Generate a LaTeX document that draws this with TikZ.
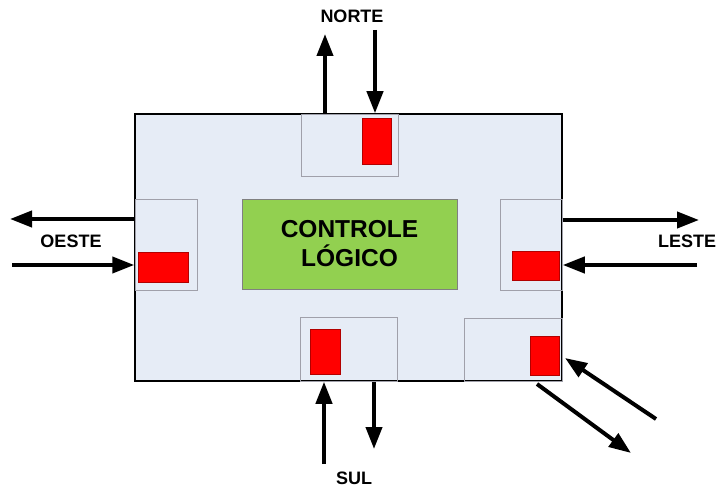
\documentclass[tikz,border=0pt]{standalone}
\usepackage{fontspec}
\setmainfont{Liberation Sans}
\usepackage{xcolor}
\usetikzlibrary{arrows.meta, positioning, calc}
\definecolor{chip-blue}{RGB}{230,236,246}
\definecolor{chip-green}{RGB}{146,208,80}
\definecolor{port-gray}{RGB}{160,160,170}
\definecolor{buf-red}{RGB}{255,0,0}

\begin{document}
\begin{tikzpicture}[
  x=1pt, y=-1pt,
  chip/.style={draw, line width=1.5pt, fill=chip-blue, minimum width=427pt, minimum height=267pt, inner sep=0pt},
  port/.style={draw=port-gray, line width=0.8pt, minimum width=#1, inner sep=0pt},
  buf/.style={draw=red!70!black, line width=0.4pt, fill=buf-red, inner sep=0pt},
  logic/.style={draw=gray, line width=0.5pt, fill=chip-green, minimum width=215pt, minimum height=90pt, align=center, font=\fontsize{24.5}{29}\selectfont\bfseries},
  lbl/.style={font=\fontsize{18}{21}\selectfont\bfseries},
  sig/.style={-{Triangle[length=22pt,width=16pt]}, line width=4pt},
]
  \useasboundingbox (0,0) rectangle (726,489);

  % Chip
  \node[chip] (chip) at (348.5,247.5) {};

  % Ports
  \node[port=97pt, minimum height=62pt] (pn) at (349.5,145) {};
  \node[port=62pt, minimum height=91pt] (pw) at (166,244.5) {};
  \node[port=62pt, minimum height=91pt] (pe) at (531,244.5) {};
  \node[port=97pt, minimum height=64pt] (ps) at (348.5,349) {};
  \node[port=98pt, minimum height=63pt] (pse) at (513,349.5) {};

  % Buffers
  \node[buf, minimum width=29pt, minimum height=46pt] (bn) at (376.5,141) {};
  \node[buf, minimum width=50pt, minimum height=30pt] (bw) at (163,267) {};
  \node[buf, minimum width=47pt, minimum height=29pt] (be) at (535.5,265.5) {};
  \node[buf, minimum width=30pt, minimum height=45pt] (bs) at (325,351.5) {};
  \node[buf, minimum width=29pt, minimum height=39pt] (bse) at (544.5,355.5) {};

  % Logic
  \node[logic] (ctl) at (349.5,244) {CONTROLE\\LÓGICO};

  % Labels
  \node[lbl] (norte) at (352,16) {NORTE};
  \node[lbl] (oeste) at (71,241) {OESTE};
  \node[lbl] (leste) at (687,241) {LESTE};
  \node[lbl] (sul) at (354,478) {SUL};

  % Free ends
  \coordinate (nOut) at (325,34);
  \coordinate (nIn) at (375,30);
  \coordinate (wOut) at (10,219);
  \coordinate (wIn) at (12,265);
  \coordinate (eOut) at (699,220);
  \coordinate (eIn) at (697,265);
  \coordinate (sIn) at (324,464);
  \coordinate (sOut) at (374,449);
  \coordinate (seIn) at (656,419);
  \coordinate (seInEnd) at (565,358);
  \coordinate (seOut) at (537,384);
  \coordinate (seOutEnd) at (631,453);

  % Signals
  \draw[sig] (chip.north -| nOut) -- (nOut);
  \draw[sig] (nIn) -- (chip.north -| nIn);
  \draw[sig] (chip.west |- wOut) -- (wOut);
  \draw[sig] (wIn) -- (chip.west |- wIn);
  \draw[sig] (chip.east |- eOut) -- (eOut);
  \draw[sig] (eIn) -- (chip.east |- eIn);
  \draw[sig] (sIn) -- (chip.south -| sIn);
  \draw[sig] (chip.south -| sOut) -- (sOut);
  \draw[sig] (seIn) -- (seInEnd);
  \draw[sig] (seOut) -- (seOutEnd);
\end{tikzpicture}
\end{document}
